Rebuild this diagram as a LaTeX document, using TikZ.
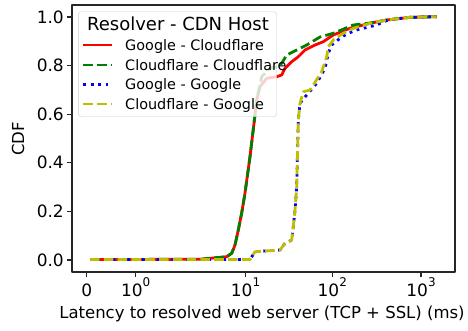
\documentclass[tikz,border=0pt]{standalone}
\usepackage{fontspec}
\setmainfont{DejaVu Sans}
\usetikzlibrary{positioning}

\definecolor{mplred}{RGB}{255,0,0}
\definecolor{mplgreen}{RGB}{0,128,0}
\definecolor{mplblue}{RGB}{0,0,255}
\definecolor{mplyellow}{RGB}{191,191,0}

\tikzset{
  gc/.style={mplred, line width=2.8pt},
  cc/.style={mplgreen, line width=2.8pt, dash pattern=on 9.6pt off 4.2pt},
  gg/.style={mplblue, line width=2.8pt, dash pattern=on 2.8pt off 4.6pt},
  cg/.style={mplyellow, line width=2.8pt, dash pattern=on 9.6pt off 4.2pt},
  ticklbl/.style={font=\fontsize{17}{17}\selectfont},
  axlbl/.style={font=\fontsize{16.5}{16.5}\selectfont},
  leglbl/.style={font=\fontsize{14.4}{14.4}\selectfont, anchor=base west},
}
\newcommand{\dec}[1]{10\raisebox{0.55em}{\fontsize{12}{12}\selectfont #1}}

\begin{document}
\begin{tikzpicture}[x=1pt,y=-1pt,line join=round]
\useasboundingbox (0,0) rectangle (468,330);

% curves (pixel coordinates, y = 260 - 243*CDF)
\draw[gc] (90,259.5) -- (200,259.3) -- (226.7,256.7) -- (231.7,253.3) -- (235,245) -- (238.3,230) -- (241.7,213) -- (245,193) -- (250,156.7) -- (254,123.3) -- (256.7,100) -- (260,86.7) -- (266.7,78.3) -- (276.7,76.7) -- (281.7,75) -- (285,68.3) -- (291.7,61.7) -- (298.3,56.7) -- (305,50) -- (315,45) -- (323.3,41.7) -- (328.3,38.3) -- (333.3,35) -- (350,28.3) -- (370,23.3) -- (386.7,20) -- (410,17.3) -- (436.7,16.7);
\draw[cc] (90,259.5) -- (200,259.3) -- (226.7,256.7) -- (231.7,253.3) -- (235,245) -- (238.3,230) -- (241.7,213) -- (245,193) -- (250,156.7) -- (254,123.3) -- (256.7,100) -- (261.7,76.7) -- (270,68.3) -- (276.7,66.7) -- (281.7,63.3) -- (286.7,55) -- (296.7,50) -- (306.7,45) -- (320,37) -- (333.3,33.3) -- (353.3,25) -- (370,23) -- (386.7,20) -- (410,17.3) -- (436.7,16.7);
\draw[gg] (90,259.5) -- (250,259.5) -- (255,251.7) -- (280,250) -- (285,243.3) -- (291.7,240) -- (293.3,226.7) -- (295,210) -- (296.7,186.7) -- (298.3,120) -- (300,103.3) -- (305,97) -- (316.7,83.3) -- (325,68.3) -- (328.3,53.3) -- (331.7,45) -- (340,38.3) -- (346.7,34) -- (356.7,30) -- (376.7,25) -- (388,20) -- (410,17.3) -- (436.7,16.7);
\draw[cg] (90,259.5) -- (250,259.5) -- (255,251.7) -- (280,250) -- (285,243.3) -- (291.7,240) -- (293.3,226.7) -- (295,210) -- (296.7,186.7) -- (298.3,120) -- (300,103.3) -- (303.3,91.7) -- (310,90) -- (313.3,85) -- (321.7,71.7) -- (326.7,56.7) -- (328.3,46.7) -- (333.3,40) -- (343.3,33.3) -- (353.3,28.3) -- (370,23.3) -- (386.7,20) -- (410,17.3) -- (436.7,16.7);

% axes frame and ticks
\draw[line width=1.3pt, black!85] (72,5) rectangle (455,272);
\foreach \v/\t in {0/0.0,0.2/0.2,0.4/0.4,0.6/0.6,0.8/0.8,1/1.0}{
  \draw[line width=1.1pt, black!85] (72,260-243*\v) -- (67,260-243*\v);
  \node[ticklbl, anchor=east, inner sep=0pt] (yt\t) at (64,260-243*\v) {\t};
}
\foreach \x/\e in {135.7/0,245.5/1,332.3/2,421/3}{
  \draw[line width=1.1pt, black!85] (\x,272) -- (\x,277);
  \node[ticklbl, anchor=base] (xt\e) at (\x,296) {\dec{\e}};
}
\draw[line width=1.1pt, black!85] (86.7,272) -- (86.7,277);
\node[ticklbl, anchor=base] (xtzero) at (86.7,296) {0};

% axis labels
\node[axlbl, anchor=base] (xlbl) at (262,318) {Latency to resolved web server (TCP + SSL) (ms)};
\node[axlbl, rotate=90] (ylbl) at (18,139) {CDF};

% legend
\draw[rounded corners=3pt, fill=white, fill opacity=0.8, draw=black!20] (78.3,11.7) rectangle (276.7,116.7);
\node[font=\fontsize{18}{18}\selectfont, anchor=base] (legtitle) at (178,30.5) {Resolver - CDN Host};
\foreach \s/\t/\yy in {gc/Google - Cloudflare/45,cc/Cloudflare - Cloudflare/65,gg/Google - Google/84.5,cg/Cloudflare - Google/104}{
  \draw[\s] (83.3,\yy) -- (111.7,\yy);
  \node[leglbl] (leg\s) at (121.7,\yy+5) {\t};
}
\end{tikzpicture}
\end{document}
